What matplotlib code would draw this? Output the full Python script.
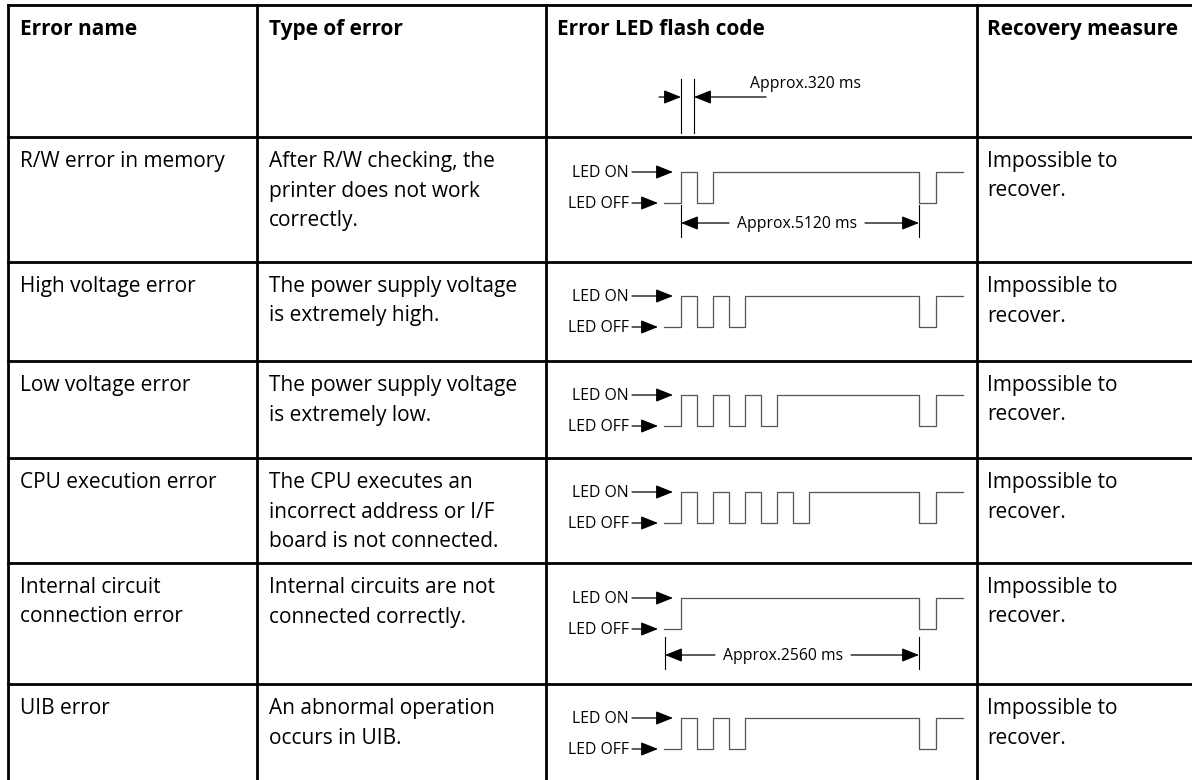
import matplotlib.pyplot as plt

plt.rcParams['font.family'] = ['Open Sans', 'DejaVu Sans']

headers = ["Error name", "Type of error", "Error LED flash code", "Recovery measure"]
error_names = [
    ["R/W error in memory"],
    ["High voltage error"],
    ["Low voltage error"],
    ["CPU execution error"],
    ["Internal circuit", "connection error"],
    ["UIB error"],
]
error_types = [
    ["After R/W checking, the", "printer does not work", "correctly."],
    ["The power supply voltage", "is extremely high."],
    ["The power supply voltage", "is extremely low."],
    ["The CPU executes an", "incorrect address or I/F", "board is not connected."],
    ["Internal circuits are not", "connected correctly."],
    ["An abnormal operation", "occurs in UIB."],
]
recovery = [["Impossible to", "recover."]] * 6
# short flashes before the long ON period
pulse_counts = [1, 2, 3, 4, 0, 2]
# dimension notes under some waveforms: row index -> label
period_notes = {0: "Approx.5120 ms", 4: "Approx.2560 ms"}
pulse_note = "Approx.320 ms"

# layout (pixels)
W, H = 1192, 780
col_x = [8, 257, 546, 977]
row_y = [5, 137, 262, 361, 458, 563, 684]
line_gap = 29.5
first_base = 30

fig = plt.figure(figsize=(W / 100, H / 100), dpi=100)
ax = fig.add_axes([0, 0, 1, 1])
ax.set_xlim(0, W)
ax.set_ylim(H, 0)
ax.axis('off')

tlw = 2.0
for x in col_x:
    ax.plot([x, x], [row_y[0], H], color='black', lw=tlw, solid_capstyle='projecting')
for y in row_y:
    ax.plot([col_x[0], W], [y, y], color='black', lw=tlw, solid_capstyle='projecting')

fs = 15
pad = [12, 12, 11, 10]
for j, h in enumerate(headers):
    ax.text(col_x[j] + pad[j], row_y[0] + first_base, h, fontsize=fs,
            fontweight='bold', va='baseline', ha='left')


def cell(j, i, lines):
    for k, s in enumerate(lines):
        ax.text(col_x[j] + pad[j], row_y[i + 1] + first_base + k * line_gap, s,
                fontsize=fs, va='baseline', ha='left')


def arrow(x0, x1, y, lw=0.9):
    ax.annotate("", xy=(x1, y), xytext=(x0, y),
                arrowprops=dict(arrowstyle="-|>,head_length=0.75,head_width=0.3",
                                color='black', lw=lw, shrinkA=0, shrinkB=0,
                                mutation_scale=14))


lab_fs = 11.3

# header dimension: pulse width
tick_a, tick_b = 681, 694
ax.plot([tick_a, tick_a], [79, 133], color='black', lw=0.8)
ax.plot([tick_b, tick_b], [79, 133], color='black', lw=0.8)
arrow(659, tick_a, 97)
arrow(766, tick_b, 97)
ax.text(750, 88, pulse_note, fontsize=lab_fs, va='baseline', ha='left')

pw = 16          # drawn width of one 320 ms step
x_start, x_rise = 664, 681
x_off, x_back, x_end = 919, 936, 963

for i in range(6):
    cell(0, i, error_names[i])
    cell(1, i, error_types[i])
    cell(3, i, recovery[i])

    top = row_y[i + 1]
    y_on = top + 35 if i in (0, 4) else top + 34
    y_off = y_on + 31

    ax.text(629, y_on + 5, "LED ON", fontsize=lab_fs, ha='right', va='baseline')
    ax.text(629, y_off + 5, "LED OFF", fontsize=lab_fs, ha='right', va='baseline')
    arrow(632, 673, y_on)
    arrow(632, 658, y_off)

    xs = [x_start, x_rise]
    ys = [y_off, y_off]
    x = x_rise
    for p in range(pulse_counts[i]):
        xs += [x, x + pw, x + pw, x + 2 * pw]
        ys += [y_on, y_on, y_off, y_off]
        x += 2 * pw
    xs += [x, x_off, x_off, x_back, x_back, x_end]
    ys += [y_on, y_on, y_off, y_off, y_on, y_on]
    ax.plot(xs, ys, color='#555555', lw=0.9)

    if i in period_notes:
        left = x_rise if i == 0 else x_start + 1
        dy = 20 if i == 0 else 26
        ya = y_off + dy
        ax.plot([left, left], [ya - 18, ya + 14], color='black', lw=0.8)
        ax.plot([x_off, x_off], [ya - 18, ya + 14], color='black', lw=0.8)
        tx0 = 737 if i == 0 else 723
        ax.text(tx0, ya + 5, period_notes[i], fontsize=lab_fs, ha='left', va='baseline')
        arrow(tx0 - 8, left, ya)
        arrow(tx0 + 128, x_off, ya)

fig.savefig("out.png", dpi=100)
